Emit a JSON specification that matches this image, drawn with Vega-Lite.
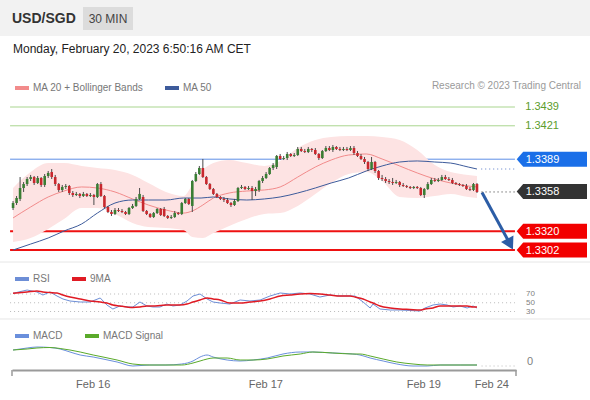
{
"$schema":"https://vega.github.io/schema/vega-lite/v6.json",
"width":590,"height":400,"autosize":"none","padding":0,"background":"#ffffff",
"config":{"view":{"stroke":null},"font":"Liberation Sans","axis":{"labelFont":"Liberation Sans","grid":false},"legend":{"labelFont":"Liberation Sans","padding":0},"text":{"font":"Liberation Sans"}},
"datasets":{
"one":[{}],
"candles":[
{"i":0,"o":1.33422,"h":1.33489,"l":1.33403,"c":1.33470},{"i":1,"o":1.33470,"h":1.33537,"l":1.33451,"c":1.33518},{"i":2,"o":1.33509,"h":1.33719,"l":1.33489,"c":1.33614},{"i":3,"o":1.33614,"h":1.33671,"l":1.33576,"c":1.33652},{"i":4,"o":1.33652,"h":1.33719,"l":1.33633,"c":1.33700},{"i":5,"o":1.33700,"h":1.33739,"l":1.33681,"c":1.33719},{"i":6,"o":1.33719,"h":1.33729,"l":1.33643,"c":1.33662},{"i":7,"o":1.33662,"h":1.33729,"l":1.33652,"c":1.33710},{"i":8,"o":1.33710,"h":1.33719,"l":1.33624,"c":1.33643},{"i":9,"o":1.33643,"h":1.33748,"l":1.33624,"c":1.33729},
{"i":10,"o":1.33729,"h":1.33777,"l":1.33710,"c":1.33758},{"i":11,"o":1.33767,"h":1.33796,"l":1.33700,"c":1.33719},{"i":12,"o":1.33719,"h":1.33739,"l":1.33633,"c":1.33652},{"i":13,"o":1.33652,"h":1.33662,"l":1.33576,"c":1.33595},{"i":14,"o":1.33595,"h":1.33643,"l":1.33576,"c":1.33624},{"i":15,"o":1.33624,"h":1.33652,"l":1.33604,"c":1.33633},{"i":16,"o":1.33633,"h":1.33643,"l":1.33547,"c":1.33566},{"i":17,"o":1.33566,"h":1.33585,"l":1.33528,"c":1.33547},{"i":18,"o":1.33547,"h":1.33576,"l":1.33537,"c":1.33557},{"i":19,"o":1.33557,"h":1.33566,"l":1.33518,"c":1.33537},
{"i":20,"o":1.33537,"h":1.33576,"l":1.33528,"c":1.33557},{"i":21,"o":1.33557,"h":1.33566,"l":1.33528,"c":1.33537},{"i":22,"o":1.33537,"h":1.33566,"l":1.33528,"c":1.33547},{"i":23,"o":1.33547,"h":1.33557,"l":1.33451,"c":1.33528},{"i":24,"o":1.33528,"h":1.33662,"l":1.33518,"c":1.33652},{"i":25,"o":1.33652,"h":1.33671,"l":1.33528,"c":1.33537},{"i":26,"o":1.33537,"h":1.33547,"l":1.33422,"c":1.33432},{"i":27,"o":1.33432,"h":1.33442,"l":1.33374,"c":1.33384},{"i":28,"o":1.33384,"h":1.33403,"l":1.33346,"c":1.33365},{"i":29,"o":1.33365,"h":1.33422,"l":1.33355,"c":1.33403},
{"i":30,"o":1.33403,"h":1.33422,"l":1.33384,"c":1.33394},{"i":31,"o":1.33394,"h":1.33413,"l":1.33374,"c":1.33384},{"i":32,"o":1.33384,"h":1.33394,"l":1.33355,"c":1.33365},{"i":33,"o":1.33365,"h":1.33432,"l":1.33355,"c":1.33422},{"i":34,"o":1.33422,"h":1.33461,"l":1.33413,"c":1.33442},{"i":35,"o":1.33442,"h":1.33528,"l":1.33432,"c":1.33509},{"i":36,"o":1.33509,"h":1.33614,"l":1.33499,"c":1.33557},{"i":37,"o":1.33528,"h":1.33547,"l":1.33384,"c":1.33394},{"i":38,"o":1.33394,"h":1.33403,"l":1.33355,"c":1.33365},{"i":39,"o":1.33365,"h":1.33374,"l":1.33327,"c":1.33336},
{"i":40,"o":1.33336,"h":1.33384,"l":1.33327,"c":1.33374},{"i":41,"o":1.33374,"h":1.33422,"l":1.33365,"c":1.33413},{"i":42,"o":1.33413,"h":1.33422,"l":1.33346,"c":1.33355},{"i":43,"o":1.33413,"h":1.33432,"l":1.33336,"c":1.33346},{"i":44,"o":1.33346,"h":1.33355,"l":1.33317,"c":1.33327},{"i":45,"o":1.33327,"h":1.33355,"l":1.33317,"c":1.33336},{"i":46,"o":1.33336,"h":1.33394,"l":1.33327,"c":1.33374},{"i":47,"o":1.33374,"h":1.33384,"l":1.33355,"c":1.33365},{"i":48,"o":1.33365,"h":1.33480,"l":1.33355,"c":1.33470},{"i":49,"o":1.33470,"h":1.33518,"l":1.33461,"c":1.33509},
{"i":50,"o":1.33509,"h":1.33518,"l":1.33451,"c":1.33461},{"i":51,"o":1.33442,"h":1.33691,"l":1.33384,"c":1.33681},{"i":52,"o":1.33681,"h":1.33767,"l":1.33671,"c":1.33748},{"i":53,"o":1.33748,"h":1.33825,"l":1.33739,"c":1.33806},{"i":54,"o":1.33806,"h":1.33892,"l":1.33710,"c":1.33719},{"i":55,"o":1.33719,"h":1.33729,"l":1.33643,"c":1.33652},{"i":56,"o":1.33652,"h":1.33662,"l":1.33595,"c":1.33604},{"i":57,"o":1.33604,"h":1.33614,"l":1.33547,"c":1.33557},{"i":58,"o":1.33557,"h":1.33566,"l":1.33518,"c":1.33528},{"i":59,"o":1.33528,"h":1.33537,"l":1.33499,"c":1.33509},
{"i":60,"o":1.33509,"h":1.33528,"l":1.33480,"c":1.33499},{"i":61,"o":1.33499,"h":1.33518,"l":1.33461,"c":1.33470},{"i":62,"o":1.33470,"h":1.33480,"l":1.33432,"c":1.33451},{"i":63,"o":1.33451,"h":1.33509,"l":1.33442,"c":1.33489},{"i":64,"o":1.33489,"h":1.33624,"l":1.33480,"c":1.33614},{"i":65,"o":1.33614,"h":1.33643,"l":1.33604,"c":1.33624},{"i":66,"o":1.33624,"h":1.33633,"l":1.33595,"c":1.33604},{"i":67,"o":1.33604,"h":1.33633,"l":1.33595,"c":1.33614},{"i":68,"o":1.33614,"h":1.33633,"l":1.33499,"c":1.33585},{"i":69,"o":1.33585,"h":1.33624,"l":1.33537,"c":1.33604},
{"i":70,"o":1.33595,"h":1.33691,"l":1.33576,"c":1.33681},{"i":71,"o":1.33681,"h":1.33729,"l":1.33662,"c":1.33710},{"i":72,"o":1.33710,"h":1.33767,"l":1.33700,"c":1.33748},{"i":73,"o":1.33748,"h":1.33815,"l":1.33739,"c":1.33806},{"i":74,"o":1.33806,"h":1.33853,"l":1.33786,"c":1.33834},{"i":75,"o":1.33815,"h":1.33930,"l":1.33796,"c":1.33921},{"i":76,"o":1.33921,"h":1.33940,"l":1.33882,"c":1.33892},{"i":77,"o":1.33892,"h":1.33921,"l":1.33882,"c":1.33901},{"i":78,"o":1.33901,"h":1.33959,"l":1.33882,"c":1.33940},{"i":79,"o":1.33940,"h":1.33949,"l":1.33911,"c":1.33921},
{"i":80,"o":1.33921,"h":1.33949,"l":1.33911,"c":1.33930},{"i":81,"o":1.33930,"h":1.34007,"l":1.33921,"c":1.33988},{"i":82,"o":1.33988,"h":1.34007,"l":1.33959,"c":1.33968},{"i":83,"o":1.33968,"h":1.33988,"l":1.33949,"c":1.33959},{"i":84,"o":1.33959,"h":1.34007,"l":1.33949,"c":1.33988},{"i":85,"o":1.33988,"h":1.33997,"l":1.33959,"c":1.33978},{"i":86,"o":1.33978,"h":1.33997,"l":1.33930,"c":1.33940},{"i":87,"o":1.33940,"h":1.33949,"l":1.33882,"c":1.33901},{"i":88,"o":1.33901,"h":1.33978,"l":1.33892,"c":1.33968},{"i":89,"o":1.33968,"h":1.34016,"l":1.33959,"c":1.33997},
{"i":90,"o":1.33997,"h":1.34016,"l":1.33968,"c":1.33978},{"i":91,"o":1.33978,"h":1.34026,"l":1.33959,"c":1.34007},{"i":92,"o":1.34007,"h":1.34016,"l":1.33978,"c":1.33988},{"i":93,"o":1.33988,"h":1.34007,"l":1.33968,"c":1.33978},{"i":94,"o":1.33978,"h":1.34007,"l":1.33968,"c":1.33988},{"i":95,"o":1.33988,"h":1.34007,"l":1.33968,"c":1.33978},{"i":96,"o":1.33978,"h":1.34016,"l":1.33968,"c":1.33997},{"i":97,"o":1.33997,"h":1.34016,"l":1.33930,"c":1.33949},{"i":98,"o":1.33949,"h":1.33968,"l":1.33911,"c":1.33921},{"i":99,"o":1.33921,"h":1.33940,"l":1.33882,"c":1.33892},
{"i":100,"o":1.33892,"h":1.33911,"l":1.33844,"c":1.33863},{"i":101,"o":1.33863,"h":1.33873,"l":1.33777,"c":1.33796},{"i":102,"o":1.33796,"h":1.33911,"l":1.33786,"c":1.33863},{"i":103,"o":1.33863,"h":1.33873,"l":1.33758,"c":1.33777},{"i":104,"o":1.33777,"h":1.33786,"l":1.33691,"c":1.33710},{"i":105,"o":1.33710,"h":1.33739,"l":1.33681,"c":1.33700},{"i":106,"o":1.33700,"h":1.33719,"l":1.33662,"c":1.33681},{"i":107,"o":1.33681,"h":1.33700,"l":1.33652,"c":1.33671},{"i":108,"o":1.33671,"h":1.33710,"l":1.33643,"c":1.33662},{"i":109,"o":1.33662,"h":1.33691,"l":1.33652,"c":1.33671},
{"i":110,"o":1.33671,"h":1.33681,"l":1.33624,"c":1.33643},{"i":111,"o":1.33643,"h":1.33662,"l":1.33624,"c":1.33633},{"i":112,"o":1.33633,"h":1.33643,"l":1.33614,"c":1.33624},{"i":113,"o":1.33624,"h":1.33633,"l":1.33604,"c":1.33614},{"i":114,"o":1.33614,"h":1.33633,"l":1.33604,"c":1.33624},{"i":115,"o":1.33624,"h":1.33633,"l":1.33604,"c":1.33614},{"i":116,"o":1.33614,"h":1.33624,"l":1.33537,"c":1.33547},{"i":117,"o":1.33547,"h":1.33614,"l":1.33518,"c":1.33604},{"i":118,"o":1.33604,"h":1.33671,"l":1.33595,"c":1.33652},{"i":119,"o":1.33652,"h":1.33710,"l":1.33643,"c":1.33691},
{"i":120,"o":1.33691,"h":1.33710,"l":1.33671,"c":1.33681},{"i":121,"o":1.33681,"h":1.33710,"l":1.33671,"c":1.33691},{"i":122,"o":1.33691,"h":1.33739,"l":1.33681,"c":1.33719},{"i":123,"o":1.33719,"h":1.33739,"l":1.33691,"c":1.33700},{"i":124,"o":1.33700,"h":1.33719,"l":1.33681,"c":1.33691},{"i":125,"o":1.33691,"h":1.33710,"l":1.33652,"c":1.33662},{"i":126,"o":1.33662,"h":1.33671,"l":1.33643,"c":1.33652},{"i":127,"o":1.33652,"h":1.33662,"l":1.33633,"c":1.33643},{"i":128,"o":1.33643,"h":1.33652,"l":1.33624,"c":1.33633},{"i":129,"o":1.33633,"h":1.33652,"l":1.33595,"c":1.33604},
{"i":130,"o":1.33604,"h":1.33624,"l":1.33585,"c":1.33595},{"i":131,"o":1.33595,"h":1.33662,"l":1.33585,"c":1.33652},{"i":132,"o":1.33652,"h":1.33662,"l":1.33566,"c":1.33576}
],
"bb":[
{"i":0,"ma":1.33327,"up":1.33614,"lo":1.33097},{"i":5,"ma":1.33432,"up":1.33767,"lo":1.33135},{"i":10,"ma":1.33528,"up":1.33853,"lo":1.33221},{"i":14.5,"ma":1.33585,"up":1.33853,"lo":1.33317},{"i":19.5,"ma":1.33624,"up":1.33825,"lo":1.33422},{"i":24,"ma":1.33614,"up":1.33806,"lo":1.33422},{"i":29,"ma":1.33576,"up":1.33786,"lo":1.33365},{"i":34,"ma":1.33509,"up":1.33739,"lo":1.33279},{"i":38.5,"ma":1.33451,"up":1.33662,"lo":1.33240},{"i":43.5,"ma":1.33403,"up":1.33576,"lo":1.33231},{"i":48.5,"ma":1.33374,"up":1.33537,"lo":1.33212},{"i":51,"ma":1.33394,"up":1.33643,"lo":1.33145},{"i":54,"ma":1.33451,"up":1.33786,"lo":1.33135},{"i":57,"ma":1.33518,"up":1.33853,"lo":1.33183},{"i":61.5,"ma":1.33566,"up":1.33882,"lo":1.33250},{"i":66.5,"ma":1.33585,"up":1.33853,"lo":1.33317},{"i":71.5,"ma":1.33595,"up":1.33825,"lo":1.33365},{"i":76,"ma":1.33624,"up":1.33873,"lo":1.33374},{"i":81,"ma":1.33719,"up":1.33997,"lo":1.33442},{"i":86,"ma":1.33815,"up":1.34074,"lo":1.33557},{"i":90.5,"ma":1.33882,"up":1.34103,"lo":1.33662},{"i":95.5,"ma":1.33930,"up":1.34112,"lo":1.33748},{"i":100.5,"ma":1.33940,"up":1.34112,"lo":1.33767},{"i":105,"ma":1.33892,"up":1.34103,"lo":1.33681},{"i":110,"ma":1.33825,"up":1.34074,"lo":1.33528},{"i":115,"ma":1.33758,"up":1.33978,"lo":1.33518},{"i":120,"ma":1.33700,"up":1.33834,"lo":1.33537},{"i":124.5,"ma":1.33662,"up":1.33767,"lo":1.33557},{"i":129.5,"ma":1.33633,"up":1.33739,"lo":1.33528},{"i":132,"ma":1.33624,"up":1.33729,"lo":1.33518}
],
"ma50":[
{"i":0,"p":1.33020},{"i":5,"p":1.33077},{"i":10,"p":1.33135},{"i":14.5,"p":1.33202},{"i":19.5,"p":1.33269},{"i":24,"p":1.33374},{"i":29,"p":1.33470},{"i":34,"p":1.33499},{"i":38.5,"p":1.33499},{"i":43.5,"p":1.33499},{"i":48.5,"p":1.33518},{"i":53.5,"p":1.33518},{"i":57,"p":1.33528},{"i":61.5,"p":1.33509},{"i":66.5,"p":1.33499},{"i":71.5,"p":1.33509},{"i":76,"p":1.33528},{"i":81,"p":1.33566},{"i":86,"p":1.33614},{"i":90.5,"p":1.33662},{"i":95.5,"p":1.33710},{"i":100.5,"p":1.33777},{"i":105,"p":1.33825},{"i":110,"p":1.33863},{"i":115,"p":1.33873},{"i":120,"p":1.33863},{"i":124.5,"p":1.33853},{"i":129.5,"p":1.33815},{"i":132,"p":1.33796}
],
"rsi":[
{"i":0,"r":71.6,"ma":71.6},{"i":4,"r":79.1,"ma":74.6},{"i":6.8,"r":74.6,"ma":76.9},{"i":8.5,"r":67.7,"ma":74.6},{"i":10.5,"r":74.6,"ma":73.4},{"i":12.5,"r":65.4,"ma":72.3},{"i":14.2,"r":58.6,"ma":67.7},{"i":16.2,"r":54,"ma":63.1},{"i":19.1,"r":51.7,"ma":58.6},{"i":21.9,"r":51.7,"ma":54},{"i":24.8,"r":60.9,"ma":51.7},{"i":26.7,"r":44.9,"ma":49.4},{"i":28.4,"r":35.7,"ma":44.9},{"i":30.4,"r":42.6,"ma":42.6},{"i":32.4,"r":40.3,"ma":40.3},{"i":34.1,"r":40.3,"ma":39.1},{"i":36.1,"r":51.7,"ma":40.3},{"i":38.1,"r":42.6,"ma":42.6},{"i":39.8,"r":40.3,"ma":42.6},{"i":41.8,"r":40.3,"ma":43.7},{"i":43.8,"r":47.1,"ma":44.9},{"i":45.5,"r":42.6,"ma":44.9},{"i":47.5,"r":44.9,"ma":44.9},{"i":49.5,"r":54,"ma":47.1},{"i":51.2,"r":65.4,"ma":51.7},{"i":53.2,"r":70,"ma":56.3},{"i":55.2,"r":58.6,"ma":60.9},{"i":56.9,"r":51.7,"ma":58.6},{"i":58.9,"r":49.4,"ma":56.3},{"i":61.7,"r":47.1,"ma":49.4},{"i":64.6,"r":56.3,"ma":49.4},{"i":67.4,"r":54,"ma":51.7},{"i":70.3,"r":56.3,"ma":54},{"i":73.1,"r":65.4,"ma":58.6},{"i":76,"r":72.3,"ma":65.4},{"i":78.8,"r":70,"ma":67.7},{"i":81.7,"r":72.3,"ma":70},{"i":84.5,"r":70,"ma":71.1},{"i":87.3,"r":63.1,"ma":70},{"i":90.2,"r":67.7,"ma":67.7},{"i":93,"r":65.4,"ma":65.4},{"i":95.9,"r":65.4,"ma":65.4},{"i":97.3,"r":65.4,"ma":63.1},{"i":99.6,"r":51.7,"ma":58.6},{"i":101.6,"r":38,"ma":51.7},{"i":102.4,"r":47.1,"ma":49.4},{"i":104.4,"r":35.7,"ma":42.6},{"i":107.3,"r":33.4,"ma":38},{"i":110.1,"r":33.4,"ma":35.7},{"i":112.9,"r":32.3,"ma":34.6},{"i":115.8,"r":31.1,"ma":33.4},{"i":117.2,"r":38,"ma":35.7},{"i":119.5,"r":44.9,"ma":38},{"i":121.5,"r":47.1,"ma":42.6},{"i":123.5,"r":44.9,"ma":42.6},{"i":125.2,"r":40.3,"ma":42.6},{"i":127.2,"r":42.6,"ma":42.6},{"i":129.2,"r":38,"ma":42.6},{"i":130.9,"r":42.6,"ma":40.3},{"i":132,"r":38,"ma":40.3}
],
"macd":[
{"i":0,"m":0.00016,"s":0.00016},{"i":4,"m":0.00018,"s":0.00017},{"i":6.8,"m":0.00019,"s":0.00018},{"i":10.5,"m":0.000185,"s":0.000185},{"i":13.4,"m":0.00017,"s":0.000175},{"i":16.2,"m":0.00014,"s":0.00016},{"i":19.1,"m":0.00011,"s":0.00014},{"i":22.8,"m":0.00009,"s":0.00011},{"i":25.6,"m":0.00007,"s":0.00009},{"i":29.6,"m":0.00004,"s":0.00006},{"i":34.1,"m":0.0,"s":0.00002},{"i":38.7,"m":0.00001,"s":0.00001},{"i":43.5,"m":0.00001,"s":0.00001},{"i":48,"m":0.00002,"s":0.00001},{"i":51.2,"m":0.00005,"s":0.00003},{"i":53.2,"m":0.00009,"s":0.00005},{"i":55.2,"m":0.00011,"s":0.00007},{"i":56.9,"m":0.00009,"s":0.00008},{"i":60.9,"m":0.00006,"s":0.00008},{"i":64.6,"m":0.00005,"s":0.00006},{"i":68.3,"m":0.00006,"s":0.00006},{"i":72.3,"m":0.00008,"s":0.00007},{"i":76.8,"m":0.00012,"s":0.0001},{"i":81.7,"m":0.00014,"s":0.00012},{"i":85.3,"m":0.00014,"s":0.00014},{"i":91,"m":0.00013,"s":0.00013},{"i":96.7,"m":0.00012,"s":0.00012},{"i":98.7,"m":0.00011,"s":0.00012},{"i":101.6,"m":0.00008,"s":0.0001},{"i":105.3,"m":0.00005,"s":0.00007},{"i":109.2,"m":0.00002,"s":0.00004},{"i":113.8,"m":0.0,"s":0.00002},{"i":117.8,"m":0.0,"s":0.00001},{"i":121.5,"m":0.00001,"s":0.00001},{"i":127.2,"m":0.00001,"s":0.00001},{"i":132,"m":0.00001,"s":0.00001}
],
"levthin":[{"v":1.3439,"k":"t"},{"v":1.3421,"k":"t"},{"v":1.3389,"k":"r"}],
"levsup":[{"v":1.3320},{"v":1.3302}],
"targets":[{"v":1.3439,"t":"1.3439"},{"v":1.3421,"t":"1.3421"}],
"tags":[{"v":1.3389,"k":"r","t":"1.3389"},{"v":1.3358,"k":"l","t":"1.3358"},{"v":1.3320,"k":"s","t":"1.3320"},{"v":1.3302,"k":"s","t":"1.3302"}],
"arrow":[{"i":133.43,"p":1.33571},{"i":141.42,"p":1.33076}],
"rsilev":[{"v":70,"t":"70"},{"v":50,"t":"50"},{"v":30,"t":"30"}],
"ends":[{"i":-0.3},{"i":143.1}]
},
"resolve":{"scale":{"y":"independent","color":"independent"},"legend":{"color":"independent"}},
"layer":[
{"layer":[
{"data":{"name":"one"},"mark":{"type":"rect","color":"#f2f2f2"},"encoding":{"x":{"datum":-3.8},"x2":{"datum":164.3},"y":{"datum":1.35415,"type":"quantitative","scale":{"domain":[1.3302,1.3439],"range":[250,107],"nice":false,"zero":false},"axis":null},"y2":{"datum":1.35070}}},
{"data":{"name":"one"},"mark":{"type":"rect","color":"#dcdcdc"},"encoding":{"x":{"datum":19.9},"x2":{"datum":34.13},"y":{"datum":1.35348,"type":"quantitative"},"y2":{"datum":1.35128}}},
{"data":{"name":"one"},"mark":{"type":"text","text":"USD/SGD","align":"left","baseline":"middle","fontSize":14,"fontWeight":"bold","color":"#333333"},"encoding":{"x":{"datum":-0.3},"y":{"datum":1.35233,"type":"quantitative"}}},
{"data":{"name":"one"},"mark":{"type":"text","text":"30 MIN","align":"center","baseline":"middle","fontSize":12,"color":"#444444"},"encoding":{"x":{"datum":27.02},"y":{"datum":1.35236,"type":"quantitative"}}},
{"data":{"name":"one"},"mark":{"type":"text","text":"Monday, February 20, 2023 6:50:16 AM CET","align":"left","baseline":"middle","fontSize":12,"color":"#222222"},"encoding":{"x":{"datum":-0.015},"y":{"datum":1.34950,"type":"quantitative"}}},
{"data":{"name":"one"},"mark":{"type":"text","text":"Research © 2023 Trading Central","align":"right","baseline":"middle","fontSize":10,"color":"#9a9a9a"},"encoding":{"x":{"datum":161.6},"y":{"datum":1.34591,"type":"quantitative"}}},
{"data":{"name":"one"},"mark":{"type":"rule","color":"#e6e6e6","strokeWidth":1},"encoding":{"x":{"datum":-3.8},"x2":{"datum":164.3},"y":{"datum":1.32905,"type":"quantitative"}}},
{"data":{"name":"levthin"},"mark":{"type":"rule","strokeWidth":1},"encoding":{"x":{"datum":-0.85},"x2":{"datum":142.8},"y":{"field":"v","type":"quantitative"},"stroke":{"field":"k","type":"nominal","scale":{"domain":["t","r"],"range":["#a9d58f","#5d8fe6"]},"legend":null}}},
{"data":{"name":"levsup"},"mark":{"type":"rule","strokeWidth":2,"color":"#ee1111"},"encoding":{"x":{"datum":-0.85},"x2":{"datum":142.8},"y":{"field":"v","type":"quantitative"}}}
]},
{"encoding":{"x":{"field":"i","type":"quantitative","scale":{"domain":[-0.3,143.1],"range":[12,516],"nice":false,"zero":false,"padding":0},
"axis":{"title":null,"values":[22.66,71.77,116.73,136.07],"labelExpr":"datum.value < 40 ? 'Feb 16' : datum.value < 100 ? 'Feb 17' : datum.value < 130 ? 'Feb 19' : 'Feb 24'","grid":false,"ticks":false,"tickSize":0,"labelPadding":8,"offset":-30,"domainColor":"#9a9a9a","domainWidth":2,"labelColor":"#666666","labelFontSize":11,"labelOverlap":false,"labelFlush":false,"orient":"bottom"}}},
"layer":[
{"data":{"name":"bb"},"mark":{"type":"area","color":"#fde3e3","interpolate":"monotone"},"encoding":{"y":{"field":"lo","type":"quantitative","scale":{"domain":[1.3302,1.3439],"range":[250,107],"nice":false,"zero":false},"axis":null},"y2":{"field":"up"}}},
{"data":{"name":"bb"},"mark":{"type":"line","strokeWidth":1,"interpolate":"monotone"},"encoding":{"y":{"field":"ma","type":"quantitative"},"color":{"datum":"MA 20 + Bollinger Bands","type":"nominal","scale":{"domain":["MA 20 + Bollinger Bands","MA 50"],"range":["#f28b8b","#3d5b9b"]},"legend":{"orient":"none","legendX":13,"legendY":79,"direction":"horizontal","title":null,"symbolType":"stroke","symbolStrokeWidth":4,"symbolSize":196,"labelFontSize":10,"labelColor":"#777777","columnPadding":13,"labelOffset":2}}}},
{"data":{"name":"ma50"},"mark":{"type":"line","strokeWidth":1,"interpolate":"monotone"},"encoding":{"y":{"field":"p","type":"quantitative"},"color":{"datum":"MA 50","type":"nominal"}}},
{"data":{"name":"candles"},"mark":{"type":"rule","color":"#4a4a4a","strokeWidth":1},"encoding":{"y":{"field":"l","type":"quantitative"},"y2":{"field":"h"}}},
{"data":{"name":"candles"},"mark":{"type":"bar","size":2.6},"encoding":{"y":{"field":"o","type":"quantitative"},"y2":{"field":"c"},"color":{"condition":{"test":"datum.c < datum.o","value":"#c8282e"},"value":"#3a7d34"}}},
{"data":{"name":"arrow"},"mark":{"type":"line","strokeWidth":3,"color":"#2c5da6"},"encoding":{"y":{"field":"p","type":"quantitative"}}}
]},
{"layer":[
{"data":{"name":"one"},"mark":{"type":"rule","color":"#5b7cc7","strokeDash":[1,3]},"encoding":{"x":{"datum":133.2},"x2":{"datum":142.8},"y":{"datum":1.33796,"type":"quantitative","scale":{"domain":[1.3302,1.3439],"range":[250,107],"nice":false,"zero":false},"axis":null}}},
{"data":{"name":"one"},"mark":{"type":"rule","color":"#333333","strokeDash":[1,3]},"encoding":{"x":{"datum":133.3},"x2":{"datum":142.8},"y":{"datum":1.33576,"type":"quantitative"}}},
{"data":{"name":"one"},"mark":{"type":"point","shape":"triangle-down","angle":-28,"size":196,"filled":true,"opacity":1,"color":"#2c5da6"},"encoding":{"x":{"datum":141.42},"y":{"datum":1.33076,"type":"quantitative"}}},
{"data":{"name":"targets"},"mark":{"type":"text","align":"left","baseline":"middle","fontSize":11,"color":"#5c9c2c"},"encoding":{"x":{"datum":145.75},"y":{"field":"v","type":"quantitative"},"text":{"field":"t"}}},
{"data":{"name":"tags"},"mark":{"type":"point","shape":"M-1,0L-0.815,-0.213L1,-0.213L1,0.213L-0.815,0.213Z","size":4942,"filled":true,"opacity":1,"strokeWidth":0},"encoding":{"x":{"datum":153.3},"y":{"field":"v","type":"quantitative"},"fill":{"field":"k","type":"nominal","scale":{"domain":["r","l","s"],"range":["#1a6fe8","#333333","#f20000"]},"legend":null}}},
{"data":{"name":"tags"},"mark":{"type":"text","align":"left","baseline":"middle","fontSize":11,"color":"#ffffff","dy":0.5},"encoding":{"x":{"datum":145.86},"y":{"field":"v","type":"quantitative"},"text":{"field":"t"}}}
]},
{"layer":[
{"data":{"name":"one"},"mark":{"type":"rule","color":"#e6e6e6","strokeWidth":1},"encoding":{"x":{"datum":-3.8},"x2":{"datum":164.3},"y":{"datum":12.86,"type":"quantitative","scale":{"domain":[30,70],"range":[311.5,294],"nice":false,"zero":false},"axis":null}}},
{"data":{"name":"rsilev"},"mark":{"type":"rule","color":"#bbbbbb","strokeDash":[1,3]},"encoding":{"x":{"datum":-0.85},"x2":{"datum":142.8},"y":{"field":"v","type":"quantitative"}}},
{"data":{"name":"rsilev"},"mark":{"type":"text","align":"left","baseline":"middle","fontSize":8,"color":"#808080"},"encoding":{"x":{"datum":145.95},"y":{"field":"v","type":"quantitative"},"text":{"field":"t"}}}
]},
{"encoding":{"x":{"field":"i","type":"quantitative"}},
"layer":[
{"data":{"name":"rsi"},"mark":{"type":"line","strokeWidth":1},"encoding":{"y":{"field":"r","type":"quantitative","scale":{"domain":[30,70],"range":[311.5,294],"nice":false,"zero":false},"axis":null},"color":{"datum":"RSI","type":"nominal","scale":{"domain":["RSI","9MA"],"range":["#6d8ed6","#e01b24"]},"legend":{"orient":"none","legendX":13,"legendY":270,"direction":"horizontal","title":null,"symbolType":"stroke","symbolStrokeWidth":4,"symbolSize":196,"labelFontSize":10,"labelColor":"#777777","columnPadding":14,"labelOffset":2}}}},
{"data":{"name":"rsi"},"mark":{"type":"line","strokeWidth":1.5,"interpolate":"monotone"},"encoding":{"y":{"field":"ma","type":"quantitative"},"color":{"datum":"9MA","type":"nominal"}}}
]},
{"layer":[
{"data":{"name":"one"},"mark":{"type":"rule","color":"#bbbbbb","strokeDash":[1,3]},"encoding":{"x":{"datum":133.3},"x2":{"datum":142.8},"y":{"datum":0,"type":"quantitative","scale":{"domain":[0,0.0002],"range":[366,346],"nice":false,"zero":false},"axis":null}}},
{"data":{"name":"one"},"mark":{"type":"text","text":"0","align":"left","baseline":"middle","fontSize":11,"color":"#808080"},"encoding":{"x":{"datum":146.23},"y":{"datum":0.00004,"type":"quantitative"}}}
]},
{"encoding":{"x":{"field":"i","type":"quantitative"}},
"layer":[
{"data":{"name":"ends"},"mark":{"type":"rule","color":"#9a9a9a","strokeWidth":1.5},"encoding":{"y":{"datum":-0.00004,"type":"quantitative","scale":{"domain":[0,0.0002],"range":[366,346],"nice":false,"zero":false},"axis":null},"y2":{"datum":-0.0001}}},
{"data":{"name":"macd"},"mark":{"type":"line","strokeWidth":1,"interpolate":"monotone"},"encoding":{"y":{"field":"m","type":"quantitative"},"color":{"datum":"MACD","type":"nominal","scale":{"domain":["MACD","MACD Signal"],"range":["#6a8fdc","#5aaa2a"]},"legend":{"orient":"none","legendX":13,"legendY":327,"direction":"horizontal","title":null,"symbolType":"stroke","symbolStrokeWidth":4,"symbolSize":196,"labelFontSize":10,"labelColor":"#777777","columnPadding":14,"labelOffset":2}}}},
{"data":{"name":"macd"},"mark":{"type":"line","strokeWidth":1,"interpolate":"monotone"},"encoding":{"y":{"field":"s","type":"quantitative"},"color":{"datum":"MACD Signal","type":"nominal"}}}
]}
]
}
